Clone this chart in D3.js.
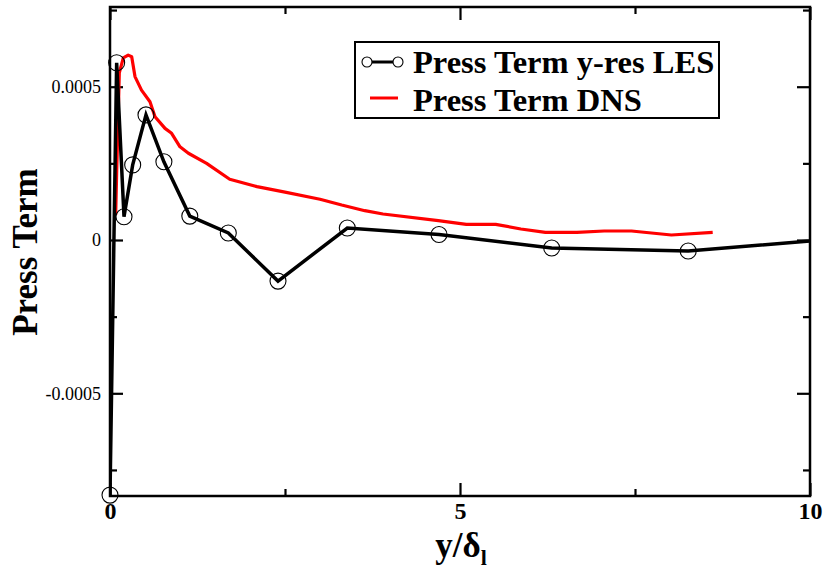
<!DOCTYPE html>
<html><head><meta charset="utf-8">
<script src="https://cdn.jsdelivr.net/npm/d3@7"></script>
<style>body{margin:0;background:#fff}svg{display:block}svg text{font-family:"Liberation Serif","Times New Roman",Times,serif}</style>
</head><body><svg id="c" width="824" height="569"></svg>
<script>
// ---- data ----
const lesX = [0, 0.095, 0.2, 0.324, 0.514, 0.77, 1.14, 1.69, 2.4, 3.39, 4.7, 6.31, 8.26, 11];
const lesY = [-0.000832, 0.000578, 0.000076, 0.000245, 0.000408, 0.000255, 0.000078, 0.000023, -0.000134, 0.000039, 0.000018, -0.000026, -0.000036, 0.000015];
const dnsX = [0.081, 0.095, 0.133, 0.19, 0.26, 0.31, 0.357, 0.45, 0.571, 0.643, 0.786, 0.88, 1.0, 1.12, 1.38, 1.71, 2.1, 2.5, 3.0, 3.31, 3.64, 3.9, 4.69, 5.09, 5.51, 5.87, 6.22, 6.67, 7.06, 7.45, 8.02, 8.61];
const dnsY = [0.0000815, 0.000218, 0.000545, 0.000594, 0.000603, 0.000598, 0.000533, 0.000489, 0.000451, 0.000402, 0.000364, 0.000348, 0.000304, 0.000283, 0.00025, 0.000198, 0.000174, 0.000156, 0.000133, 0.000114, 0.0000956, 0.0000848, 0.000063, 0.0000512, 0.0000512, 0.0000359, 0.0000251, 0.0000251, 0.0000294, 0.0000294, 0.0000163, 0.0000251];
const xTicks = [0, 5, 10];
const xTickLabels = ["0", "5", "10"];
const xMinor = [2.5, 7.5];
const yTicks = [-0.0005, 0, 0.0005];
const yTickLabels = ["-0.0005", "0", "0.0005"];
const yMinor = [-0.00075, -0.00025, 0.00025, 0.00075];
const seriesNames = ["Press Term y-res LES", "Press Term DNS"];
const yTitle = "Press Term";

// ---- layout ----
const L = 110, R = 810, T = 7, B = 496;
const svg = d3.select("#c");
const x = d3.scaleLinear().domain([0, 10]).range([L, R]);
const y = d3.scaleLinear().domain([-0.000835, 0.00076]).range([B, T]);
const serif = '"Liberation Serif","Times New Roman",Times,serif';

svg.append("defs").append("clipPath").attr("id", "clip")
  .append("rect").attr("x", L).attr("y", T).attr("width", R - L).attr("height", B - T);

const MAJ = 13, MIN = 7;
function styleAxis(g) {
  g.attr("font-family", null);
  g.select(".domain").remove();
  g.selectAll("line").attr("stroke", "#000").attr("stroke-width", 2.2);
}
svg.append("g").attr("transform", `translate(0,${B})`)
  .call(d3.axisBottom(x).tickValues(xTicks).tickSize(-MAJ).tickFormat((d, i) => xTickLabels[i]).tickPadding(6))
  .call(styleAxis)
  .call(g => g.selectAll("text").style("font-family", serif).attr("font-weight", "bold").attr("font-size", 24).attr("fill", "#000"));
svg.append("g").attr("transform", `translate(0,${B})`)
  .call(d3.axisBottom(x).tickValues(xMinor).tickSize(-MIN).tickFormat(""))
  .call(styleAxis);
svg.append("g").attr("transform", `translate(0,${T})`)
  .call(d3.axisTop(x).tickValues(xTicks).tickSize(-MAJ).tickFormat(""))
  .call(styleAxis);
svg.append("g").attr("transform", `translate(0,${T})`)
  .call(d3.axisTop(x).tickValues(xMinor).tickSize(-MIN).tickFormat(""))
  .call(styleAxis);
svg.append("g").attr("transform", `translate(${L},0)`)
  .call(d3.axisLeft(y).tickValues(yTicks).tickSize(-MAJ).tickFormat((d, i) => yTickLabels[i]).tickPadding(9))
  .call(styleAxis)
  .call(g => g.selectAll("text").style("font-family", serif).attr("font-size", 18).attr("fill", "#000"));
svg.append("g").attr("transform", `translate(${L},0)`)
  .call(d3.axisLeft(y).tickValues(yMinor).tickSize(-MIN).tickFormat(""))
  .call(styleAxis);
svg.append("g").attr("transform", `translate(${R},0)`)
  .call(d3.axisRight(y).tickValues(yTicks).tickSize(-MAJ).tickFormat(""))
  .call(styleAxis);
svg.append("g").attr("transform", `translate(${R},0)`)
  .call(d3.axisRight(y).tickValues(yMinor).tickSize(-MIN).tickFormat(""))
  .call(styleAxis);

// data
const plot = svg.append("g").attr("clip-path", "url(#clip)");
const line = d3.line().x(d => x(d[0])).y(d => y(d[1]));
const dns = dnsX.map((v, i) => [v, dnsY[i]]);
const les = lesX.map((v, i) => [v, lesY[i]]);
plot.append("path").datum(dns).attr("d", line).attr("fill", "none").attr("stroke", "#ff0000").attr("stroke-width", 3.2).attr("stroke-linejoin", "round");
plot.append("path").datum(les).attr("d", line).attr("fill", "none").attr("stroke", "#000").attr("stroke-width", 3.5).attr("stroke-linejoin", "miter");
const xd = x.domain();
svg.selectAll("circle.m").data(les.filter(d => d[0] >= xd[0] && d[0] <= xd[1])).join("circle").attr("class", "m")
  .attr("cx", d => x(d[0])).attr("cy", d => y(d[1])).attr("r", 8)
  .attr("fill", "none").attr("stroke", "#000").attr("stroke-width", 1.1);

// frame
svg.append("rect").attr("x", L).attr("y", T).attr("width", R - L).attr("height", B - T)
  .attr("fill", "none").attr("stroke", "#000").attr("stroke-width", 2.5);

// legend
const lg = svg.append("g");
lg.append("rect").attr("x", 355).attr("y", 42).attr("width", 364).attr("height", 76)
  .attr("fill", "#fff").attr("stroke", "#000").attr("stroke-width", 2);
lg.append("line").attr("x1", 367).attr("x2", 398).attr("y1", 62).attr("y2", 62).attr("stroke", "#000").attr("stroke-width", 3);
[367, 398].forEach(cx => lg.append("circle").attr("cx", cx).attr("cy", 62).attr("r", 5).attr("fill", "#fff").attr("stroke", "#000").attr("stroke-width", 1.1));
lg.append("line").attr("x1", 370).attr("x2", 398).attr("y1", 98).attr("y2", 98).attr("stroke", "#ff0000").attr("stroke-width", 3);
lg.selectAll("text.l").data(seriesNames).join("text").attr("class", "l")
  .attr("x", 413).attr("y", (d, i) => 73 + i * 38)
  .style("font-family", serif).attr("font-weight", "bold").attr("font-size", 32.5).attr("fill", "#000")
  .text(d => d);

// axis titles
svg.append("text").attr("transform", "translate(37,252) rotate(-90)").attr("text-anchor", "middle")
  .style("font-family", serif).attr("font-weight", "bold").attr("font-size", 35).attr("fill", "#000").text(yTitle);
const xt = svg.append("text").attr("x", 461).attr("y", 557).attr("text-anchor", "middle")
  .style("font-family", serif).attr("font-weight", "bold").attr("font-size", 35).attr("fill", "#000");
xt.append("tspan").text("y/δ");
xt.append("tspan").attr("dy", 8).attr("font-size", 22).text("l");
</script>
</body></html>
